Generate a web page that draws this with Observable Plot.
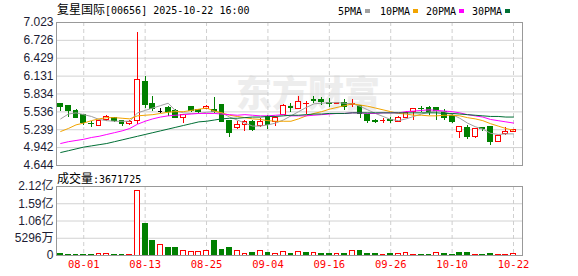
<!DOCTYPE html>
<html><head><meta charset="utf-8">
<script src="https://cdn.jsdelivr.net/npm/d3@7"></script>
<script src="https://cdn.jsdelivr.net/npm/@observablehq/plot@0.6"></script>
<style>
body{margin:0;background:#fff;}
#wrap{position:relative;width:578px;height:276px;overflow:hidden;background:#fff;}
#wrap svg{position:absolute;left:0;}
.t{position:absolute;white-space:nowrap;color:#000;}
.cjk{font-family:"Noto Sans CJK SC",sans-serif;font-size:12px;}
.mono{font-family:"DejaVu Sans Mono",monospace;font-size:10px;}
.sw{display:inline-block;width:5px;height:4px;margin-left:3px;vertical-align:middle;}
#wm{position:absolute;left:236px;top:73px;line-height:36px;font-family:"Noto Sans CJK SC",sans-serif;font-weight:900;font-size:36px;color:#ededed;}
</style></head><body><div id="wrap"><div id="wm">东方财富</div></div>
<script>
const dates = ["07-29","07-30","07-31","08-01","08-04","08-05","08-06","08-07","08-08","08-11",
"08-12","08-13","08-14","08-15","08-18","08-19","08-20","08-21","08-22","08-25",
"08-26","08-27","08-28","08-29","09-01","09-02","09-03","09-04","09-05","09-08",
"09-09","09-10","09-11","09-12","09-15","09-16","09-17","09-18","09-19","09-22",
"09-23","09-24","09-25","09-26","09-29","09-30","10-02","10-03","10-06","10-08",
"10-09","10-10","10-13","10-14","10-15","10-16","10-17","10-20","10-21","10-22"];
const xTicks = ["08-01","08-13","08-25","09-04","09-16","09-26","10-10","10-22"];
const open  = [5.66,5.63,5.55,5.49,5.34,5.30,5.40,5.44,5.38,5.33, 5.39,6.03,5.66,5.55,5.60,5.55,5.44,5.61,5.56,5.59,
               5.56,5.65,5.38,5.27,5.31,5.37,5.30,5.45,5.36,5.48, 5.62,5.58,5.66,5.74,5.73,5.69,5.67,5.69,5.65,5.64,
               5.48,5.38,5.38,5.40,5.37,5.44,5.53,5.59,5.60,5.60, 5.53,5.46,5.20,5.27,5.11,5.26,5.28,5.03,5.16,5.20];
const high  = [5.67,5.64,5.57,5.50,5.38,5.40,5.48,5.45,5.40,5.39, 6.85,6.12,5.80,5.59,5.62,5.57,5.50,5.63,5.58,5.65,
               5.78,5.66,5.39,5.37,5.39,5.39,5.42,5.47,5.46,5.66, 5.67,5.80,5.71,5.80,5.77,5.76,5.70,5.75,5.75,5.65,
               5.49,5.41,5.42,5.45,5.46,5.55,5.60,5.62,5.62,5.61, 5.57,5.49,5.29,5.31,5.26,5.28,5.30,5.14,5.27,5.25];
const low   = [5.55,5.45,5.43,5.31,5.28,5.29,5.37,5.36,5.29,5.31, 5.33,5.60,5.55,5.51,5.46,5.42,5.34,5.52,5.51,5.57,
               5.51,5.36,5.11,5.24,5.21,5.21,5.28,5.25,5.29,5.47, 5.52,5.57,5.49,5.67,5.65,5.61,5.66,5.56,5.61,5.42,
               5.35,5.34,5.34,5.35,5.36,5.43,5.39,5.52,5.47,5.39, 5.39,5.34,5.09,5.08,5.10,5.21,4.98,5.03,5.15,5.19];
const close = [5.62,5.55,5.44,5.35,5.33,5.39,5.45,5.39,5.33,5.36, 6.06,5.65,5.59,5.55,5.54,5.44,5.49,5.55,5.53,5.62,
               5.53,5.37,5.19,5.31,5.37,5.24,5.37,5.32,5.43,5.64, 5.60,5.70,5.67,5.72,5.70,5.66,5.69,5.62,5.66,5.50,
               5.38,5.37,5.39,5.39,5.43,5.52,5.58,5.58,5.54,5.55, 5.43,5.37,5.28,5.11,5.25,5.25,5.03,5.14,5.20,5.24];
const ma5  = [5.42,5.50,5.52,5.49,5.46,5.41,5.39,5.38,5.38,5.38, 5.52,5.56,5.60,5.64,5.68,5.55,5.52,5.51,5.51,5.53,
              5.54,5.52,5.45,5.40,5.35,5.30,5.30,5.32,5.35,5.40, 5.47,5.54,5.61,5.67,5.68,5.69,5.69,5.68,5.67,5.63,
              5.57,5.51,5.46,5.41,5.39,5.42,5.46,5.50,5.53,5.55, 5.54,5.49,5.43,5.35,5.29,5.25,5.18,5.16,5.17,5.17];
const ma10 = [5.21,5.26,5.32,5.35,5.39,5.42,5.44,5.44,5.43,5.42, 5.47,5.48,5.49,5.51,5.53,5.54,5.54,5.56,5.58,5.60,
              5.55,5.52,5.48,5.46,5.44,5.42,5.41,5.39,5.38,5.38, 5.38,5.42,5.47,5.51,5.54,5.58,5.61,5.64,5.67,5.65,
              5.63,5.60,5.57,5.54,5.51,5.50,5.48,5.48,5.47,5.47, 5.48,5.48,5.47,5.44,5.42,5.39,5.34,5.30,5.26,5.23];
const ma20 = [5.01,5.04,5.06,5.08,5.11,5.13,5.16,5.19,5.22,5.26, 5.33,5.38,5.42,5.45,5.47,5.48,5.49,5.50,5.51,5.51,
              5.51,5.50,5.49,5.48,5.49,5.48,5.47,5.47,5.48,5.49, 5.47,5.47,5.47,5.48,5.49,5.50,5.51,5.51,5.52,5.52,
              5.51,5.51,5.52,5.52,5.52,5.54,5.55,5.56,5.57,5.56, 5.55,5.54,5.52,5.49,5.47,5.45,5.41,5.39,5.37,5.35];
const ma30 = [4.86,4.89,4.92,4.95,4.97,4.99,5.01,5.04,5.07,5.10, 5.13,5.16,5.19,5.22,5.25,5.28,5.31,5.34,5.37,5.38,
              5.40,5.42,5.43,5.43,5.44,5.45,5.45,5.46,5.46,5.47, 5.48,5.48,5.49,5.50,5.50,5.51,5.51,5.51,5.52,5.52,
              5.52,5.52,5.52,5.52,5.52,5.52,5.52,5.52,5.52,5.52, 5.51,5.51,5.50,5.49,5.48,5.47,5.46,5.46,5.45,5.45];
// volume in 万股
const volume = [600,300,300,300,300,600,600,300,300,300, 19650,9520,4600,3290,2150,2150,1440,1130,1130,1230,
                4400,1540,2150,1440,600,920,1440,920,600,1130, 600,1130,920,920,600,600,600,600,1440,1230,
                400,600,300,600,400,720,300,300,300,720, 600,300,720,920,300,300,600,300,300,367];
const volDir = "ggggg rrggr rggrg grrrr gggrr grgrr grgrg grgrg ggrgr rrggr ggggr ggrrr".replace(/ /g,"").split("");
const priceTicks = [4.644,4.942,5.239,5.536,5.834,6.131,6.429,6.726,7.023];
const volTicks = [0,5296,10592,15888,21184];
const volTickLabels = ["0","5296万","1.06亿","1.59亿","2.12亿"];
const title = "复星国际";
const titleCode = "[00656] 2025-10-22 16:00";
const legendNames = ["5PMA","10PMA","20PMA","30PMA"];
const maColors = ["#a0a0a0","#f2a400","#ff00ff","#006f35"];
const lastVolume = "3671725";

const RED = "#ff0000", GREEN = "#008000";
const rows = dates.map((d,i)=>({i, d, o:open[i], h:high[i], l:low[i], c:close[i]}));
const candleColor = r => r.c > r.o ? RED : r.c < r.o ? GREEN : "#000";
const tickIdx = xTicks.map(t => dates.indexOf(t));
const half = 0.31;
const xScale = {type:"linear", domain:[-0.55, 60.17], axis:null};
const common = {width:578, marginLeft:56, marginRight:56, style:{background:"transparent", overflow:"visible"}};
const maSeries = [ma5, ma10, ma20, ma30];

const pricePlot = Plot.plot({
  ...common, height:170, marginTop:22, marginBottom:5,
  x: xScale,
  y: {type:"linear", domain:[4.644, 7.023], axis:null},
  marks: [
    Plot.ruleY(priceTicks, {stroke:"#d2d2d2"}),
    Plot.ruleX(tickIdx, {stroke:"#cfcfcf", strokeDasharray:"4,3"}),
    Plot.ruleX(rows, {x:"i", y1:"l", y2:"h", stroke:candleColor, shapeRendering:"crispEdges"}),
    Plot.rect(rows.filter(r=>r.c!==r.o), {x1:r=>r.i-half, x2:r=>r.i+half, y1:"o", y2:"c",
      fill:r=>r.c>r.o?"#fff":GREEN, stroke:candleColor, shapeRendering:"crispEdges"}),
    Plot.ruleY(rows.filter(r=>r.c===r.o), {y:"c", x1:r=>r.i-half, x2:r=>r.i+half, stroke:"#000", shapeRendering:"crispEdges"}),
    ...maSeries.map((s,k)=>Plot.line(s, {x:(d,i)=>i, y:d=>d, stroke:maColors[k], strokeWidth:1})),
    Plot.frame({stroke:"#999"}),
    Plot.text(priceTicks, {y:d=>d, frameAnchor:"left", textAnchor:"end", dx:-3, text:d=>d.toFixed(3),
      fontSize:12, fontFamily:"Liberation Sans, Arial, sans-serif", fill:"#1c1c34"})
  ]
});

const volPlot = Plot.plot({
  ...common, height:106, marginTop:16, marginBottom:21,
  x: xScale,
  y: {type:"linear", domain:[0, 21184], axis:null},
  marks: [
    Plot.ruleY(volTicks, {stroke:"#d2d2d2"}),
    Plot.ruleX(tickIdx, {stroke:"#cfcfcf", strokeDasharray:"4,3"}),
    Plot.rect(rows, {x1:r=>r.i-half, x2:r=>r.i+half, y1:0, y2:r=>volume[r.i],
      fill:r=>volDir[r.i]==="r"?"#fff":GREEN, stroke:r=>volDir[r.i]==="r"?RED:GREEN, shapeRendering:"crispEdges"}),
    Plot.frame({stroke:"#999"}),
    Plot.text(volTicks, {y:d=>d, frameAnchor:"left", textAnchor:"end", dx:-3, text:(d,i)=>volTickLabels[i],
      fontSize:12, fontFamily:"Liberation Sans, Arial, 'Noto Sans CJK SC', sans-serif", fill:"#1c1c34"}),
    Plot.text(tickIdx, {x:d=>d, frameAnchor:"bottom", dy:12, text:d=>dates[d], fill:RED,
      fontSize:10.5, fontFamily:"DejaVu Sans Mono, monospace"})
  ]
});

const wrap = document.getElementById("wrap");
pricePlot.style.top = "0px";
volPlot.style.top = "170px";
wrap.appendChild(pricePlot);
wrap.appendChild(volPlot);

function addText(html, left, top){
  const d = document.createElement("div");
  d.className = "t"; d.style.left = left+"px"; d.style.top = top+"px"; d.innerHTML = html;
  wrap.appendChild(d); return d;
}
addText(`<span class="cjk">${title}</span><span class="mono">${titleCode}</span>`, 57, 0);
addText(`<span class="cjk">成交量</span><span class="mono">:${lastVolume}</span>`, 57, 169);
const legLeft = [338, 380, 426, 472];
legendNames.forEach((n,k)=>{
  addText(`<span class="mono">${n}</span><span class="sw" style="background:${maColors[k]}"></span>`, legLeft[k], 1);
});
</script></body></html>
